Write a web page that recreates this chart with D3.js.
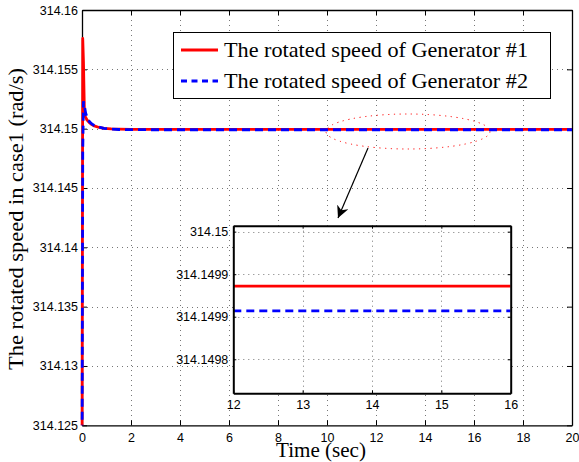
<!DOCTYPE html>
<html>
<head>
<meta charset="utf-8">
<script src="https://cdn.jsdelivr.net/npm/d3@7"></script>
<style>
  html, body { margin: 0; padding: 0; background: #fff; }
  svg { display: block; }
  .tick text { font-family: "Liberation Sans", Arial, sans-serif; }
</style>
</head>
<body>
<div id="chart"></div>
<script>
// ---------------- data ----------------
const time = [0, 0.03, 0.06, 0.1, 0.15, 0.2, 0.3, 0.4, 0.5, 0.7, 0.9, 1.2, 1.5, 2, 3, 4, 6, 8, 10, 12, 14, 16, 18, 20];
const gen1 = [314.120, 314.1576, 314.1556, 314.1512, 314.15095, 314.15075, 314.15050, 314.15034, 314.15023, 314.15010, 314.15003, 314.14998, 314.14996, 314.149942, 314.149937, 314.149936, 314.149936, 314.149936, 314.149936, 314.149936, 314.149936, 314.149936, 314.149936, 314.149936];
const gen2 = [314.120, 314.1480, 314.1523, 314.1519, 314.1513, 314.1510, 314.15060, 314.15040, 314.15027, 314.15012, 314.15003, 314.14996, 314.14993, 314.149915, 314.149908, 314.149907, 314.149907, 314.149907, 314.149907, 314.149907, 314.149907, 314.149907, 314.149907, 314.149907];
const seriesNames = ["The rotated speed of Generator #1", "The rotated speed of Generator #2"];

const xTicks = [0, 2, 4, 6, 8, 10, 12, 14, 16, 18, 20];
const yTicks = [314.125, 314.13, 314.135, 314.14, 314.145, 314.15, 314.155, 314.16];
const yTickLabels = ["314.125", "314.13", "314.135", "314.14", "314.145", "314.15", "314.155", "314.16"];

const insetXTicks = [12, 13, 14, 15, 16];
const insetYTicks = [314.15, 314.14995, 314.1499, 314.14985];
const insetYTickLabels = ["314.15", "314.1499", "314.1499", "314.1498"];

const xLabel = "Time (sec)";
const yLabel = "The rotated speed in case1 (rad/s)";

// ---------------- layout ----------------
const W = 579, H = 462;
const svg = d3.select("#chart").append("svg").attr("width", W).attr("height", H);
svg.append("rect").attr("width", W).attr("height", H).attr("fill", "#fff");

const x = d3.scaleLinear().domain([0, 20]).range([82, 572]);
const y = d3.scaleLinear().domain([314.125, 314.16]).range([425.3, 10]);

const rows = time.map((t, i) => ({ t, a: gen1[i], b: gen2[i] }));
const colors = ["#ff0000", "#0000ff"];

svg.append("defs").append("clipPath").attr("id", "mainClip")
  .append("rect").attr("x", x(0) - 3).attr("y", y(314.16)).attr("width", x(20) - x(0) + 3).attr("height", y(314.125) - y(314.16));

const gridStyle = g => g.attr("stroke", "#777").attr("stroke-width", 1).attr("stroke-dasharray", "1,4");

// grid
const grid = svg.append("g");
grid.selectAll(".gx").data(xTicks.slice(1, -1)).join("line")
  .attr("x1", d => Math.round(x(d)) + 0.5).attr("x2", d => Math.round(x(d)) + 0.5)
  .attr("y1", y.range()[1]).attr("y2", y.range()[0]).call(gridStyle);
grid.selectAll(".gy").data(yTicks.slice(1, -1)).join("line")
  .attr("y1", d => Math.round(y(d)) + 0.5).attr("y2", d => Math.round(y(d)) + 0.5)
  .attr("x1", x.range()[0]).attr("x2", x.range()[1]).call(gridStyle);

// axes (ticks inward, box)
const tickFont = "12.5px";
const axB = svg.append("g").attr("transform", `translate(0,${y.range()[0]})`)
  .call(d3.axisBottom(x).tickValues(xTicks).tickSizeInner(-5).tickSizeOuter(0).tickPadding(8));
const axT = svg.append("g").attr("transform", `translate(0,${y.range()[1]})`)
  .call(d3.axisTop(x).tickValues(xTicks).tickSizeInner(-5).tickSizeOuter(0).tickFormat(""));
const axL = svg.append("g").attr("transform", `translate(${x.range()[0]},0)`)
  .call(d3.axisLeft(y).tickValues(yTicks).tickSizeInner(-5).tickSizeOuter(0).tickPadding(4)
    .tickFormat((d, i) => yTickLabels[i]));
const axR = svg.append("g").attr("transform", `translate(${x.range()[1]},0)`)
  .call(d3.axisRight(y).tickValues(yTicks).tickSizeInner(-5).tickSizeOuter(0).tickFormat(""));
[axB, axT, axL, axR].forEach(g => {
  g.select(".domain").attr("stroke", "#000").attr("stroke-width", 1.3);
  g.selectAll(".tick line").attr("stroke", "#000").attr("stroke-width", 1);
  g.selectAll(".tick text").attr("fill", "#000").style("font-size", tickFont)
    .style("font-family", "'Liberation Sans', Arial, sans-serif");
});

// data lines (drawn over the axis box, as in the reference)
const dataG = svg.append("g").attr("clip-path", "url(#mainClip)");
const lineA = d3.line().x(d => x(d.t)).y(d => y(d.a));
const lineB = d3.line().x(d => x(d.t)).y(d => y(d.b));
dataG.append("path").datum(rows).attr("d", lineA).attr("fill", "none")
  .attr("stroke", colors[0]).attr("stroke-width", 2.8).attr("stroke-linejoin", "round");
dataG.append("path").datum(rows).attr("d", lineB).attr("fill", "none")
  .attr("stroke", colors[1]).attr("stroke-width", 2.8).attr("stroke-dasharray", "8,5");

// axis titles
svg.append("text").attr("x", 321).attr("y", 457).attr("text-anchor", "middle")
  .attr("font-family", "'Liberation Serif', 'Times New Roman', serif").attr("font-size", 20)
  .attr("textLength", 90).attr("lengthAdjust", "spacingAndGlyphs").text(xLabel);
svg.append("text").attr("transform", "translate(23,219) rotate(-90)").attr("text-anchor", "middle")
  .attr("font-family", "'Liberation Serif', 'Times New Roman', serif").attr("font-size", 21)
  .attr("textLength", 302).attr("lengthAdjust", "spacingAndGlyphs").text(yLabel);

// ellipse annotation + arrow
svg.append("ellipse").attr("cx", 408).attr("cy", 131.5).attr("rx", 82).attr("ry", 17.5)
  .attr("fill", "none").attr("stroke", "#ff0000").attr("stroke-width", 1).attr("stroke-dasharray", "1.2,4.5");
const defs = svg.select("defs");
defs.append("marker").attr("id", "arrowHead").attr("viewBox", "0 0 10 10").attr("refX", 10).attr("refY", 5)
  .attr("markerWidth", 12).attr("markerHeight", 12).attr("markerUnits", "userSpaceOnUse").attr("orient", "auto")
  .append("path").attr("d", "M0,0 L10,5 L0,10 L3,5 Z").attr("fill", "#000");
svg.append("line").attr("x1", 368).attr("y1", 148).attr("x2", 338).attr("y2", 218)
  .attr("stroke", "#000").attr("stroke-width", 1.2).attr("marker-end", "url(#arrowHead)");

// ---------------- inset ----------------
const xi = d3.scaleLinear().domain([12, 16]).range([233.3, 510.7]);
const yi = d3.scaleLinear().domain([314.14981, 314.150007]).range([393.3, 225.7]);
defs.append("clipPath").attr("id", "insetClip")
  .append("rect").attr("x", xi.range()[0]).attr("y", yi.range()[1])
  .attr("width", xi.range()[1] - xi.range()[0]).attr("height", yi.range()[0] - yi.range()[1]);

const inset = svg.append("g");
inset.append("rect").attr("x", xi.range()[0]).attr("y", yi.range()[1])
  .attr("width", xi.range()[1] - xi.range()[0]).attr("height", yi.range()[0] - yi.range()[1]).attr("fill", "#fff");
inset.selectAll(".igx").data(insetXTicks.slice(1, -1)).join("line")
  .attr("x1", d => Math.round(xi(d)) + 0.5).attr("x2", d => Math.round(xi(d)) + 0.5)
  .attr("y1", yi.range()[1]).attr("y2", yi.range()[0]).call(gridStyle);
inset.selectAll(".igy").data(insetYTicks).join("line")
  .attr("y1", d => Math.round(yi(d)) + 0.5).attr("y2", d => Math.round(yi(d)) + 0.5)
  .attr("x1", xi.range()[0]).attr("x2", xi.range()[1]).call(gridStyle);

const insetRows = rows.filter(d => d.t >= 12 && d.t <= 16);
const iData = inset.append("g").attr("clip-path", "url(#insetClip)");
iData.append("path").datum(insetRows).attr("d", d3.line().x(d => xi(d.t)).y(d => yi(d.a)))
  .attr("fill", "none").attr("stroke", colors[0]).attr("stroke-width", 2.8);
iData.append("path").datum(insetRows).attr("d", d3.line().x(d => xi(d.t)).y(d => yi(d.b)))
  .attr("fill", "none").attr("stroke", colors[1]).attr("stroke-width", 2.8).attr("stroke-dasharray", "8,5");

const iB = inset.append("g").attr("transform", `translate(0,${yi.range()[0]})`)
  .call(d3.axisBottom(xi).tickValues(insetXTicks).tickSizeInner(-3).tickSizeOuter(0).tickPadding(7).tickFormat(d3.format("d")));
const iT = inset.append("g").attr("transform", `translate(0,${yi.range()[1]})`)
  .call(d3.axisTop(xi).tickValues(insetXTicks).tickSizeInner(-3).tickSizeOuter(0).tickFormat(""));
const iL = inset.append("g").attr("transform", `translate(${xi.range()[0]},0)`)
  .call(d3.axisLeft(yi).tickValues(insetYTicks).tickSizeInner(-3).tickSizeOuter(0).tickPadding(5)
    .tickFormat((d, i) => insetYTickLabels[i]));
const iR = inset.append("g").attr("transform", `translate(${xi.range()[1]},0)`)
  .call(d3.axisRight(yi).tickValues(insetYTicks).tickSizeInner(-3).tickSizeOuter(0).tickFormat(""));
[iB, iT, iL, iR].forEach(g => {
  g.select(".domain").attr("stroke", "#000").attr("stroke-width", 2);
  g.selectAll(".tick line").attr("stroke", "#000").attr("stroke-width", 1);
  g.selectAll(".tick text").attr("fill", "#000").style("font-size", tickFont)
    .style("font-family", "'Liberation Sans', Arial, sans-serif");
});

// ---------------- legend ----------------
const leg = svg.append("g");
leg.append("rect").attr("x", 173.5).attr("y", 32.5).attr("width", 377).attr("height", 66)
  .attr("fill", "#fff").attr("stroke", "#000").attr("stroke-width", 1);
const legRows = [0, 1].map(i => ({ name: seriesNames[i], color: colors[i], dash: i ? "8,5" : null, ly: 50 + i * 31 }));
legRows.forEach(r => {
  leg.append("line").attr("x1", 181).attr("x2", 218).attr("y1", r.ly).attr("y2", r.ly)
    .attr("stroke", r.color).attr("stroke-width", 2.8).attr("stroke-dasharray", r.dash ? "6,4.5" : null);
  leg.append("text").attr("x", 224).attr("y", r.ly + 6.5)
    .attr("font-family", "'Liberation Serif', 'Times New Roman', serif").attr("font-size", 21)
    .attr("textLength", 304).attr("lengthAdjust", "spacingAndGlyphs").text(r.name);
});
</script>
</body>
</html>
